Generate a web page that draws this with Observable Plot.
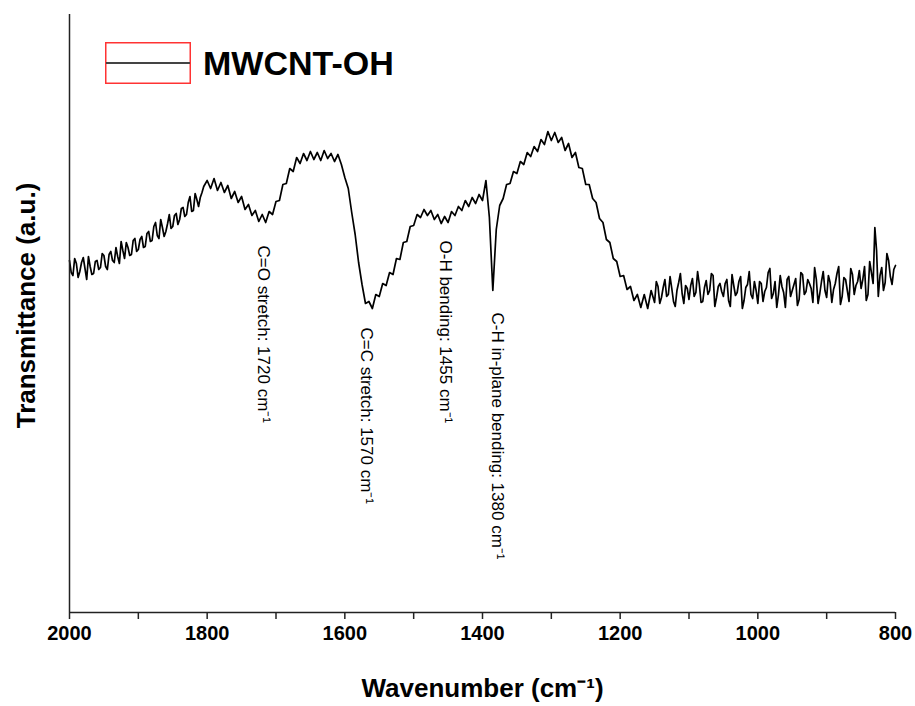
<!DOCTYPE html>
<html>
<head>
<meta charset="utf-8">
<script src="https://cdn.jsdelivr.net/npm/d3@7"></script>
<script src="https://cdn.jsdelivr.net/npm/@observablehq/plot@0.6"></script>
<style>
  body { margin: 0; background: #fff; }
  #chart { position: relative; width: 915px; height: 706px; font-family: "Liberation Sans", Arial, sans-serif; }
  #legend { position: absolute; left: 105px; top: 42px; display: flex; align-items: center; }
  #legend span { font-size: 34px; font-weight: bold; margin-left: 12px; color: #000; line-height: 42px; }
</style>
</head>
<body>
<div id="chart"><div id="legend"></div></div>
<script>
// ---- data ----
const wavenumber = [
  2000,1995,1990,1985,1980,1975,1970,1965,1960,1955,
  1950,1945,1940,1935,1930,1925,1920,1915,1910,1905,
  1900,1895,1890,1885,1880,1875,1870,1865,1860,1855,
  1850,1845,1840,1835,1830,1825,1820,1815,1810,1805,
  1800,1795,1790,1785,1780,1775,1770,1765,1760,1755,
  1750,1745,1740,1735,1730,1725,1720,1715,1710,1705,
  1700,1695,1690,1685,1680,1675,1670,1665,1660,1655,
  1650,1645,1640,1635,1630,1625,1620,1615,1610,1605,
  1600,1595,1590,1585,1580,1575,1570,1565,1560,1555,
  1550,1545,1540,1535,1530,1525,1520,1515,1510,1505,
  1500,1495,1490,1485,1480,1475,1470,1465,1460,1455,
  1450,1445,1440,1435,1430,1425,1420,1415,1410,1405,
  1400,1395,1390,1385,1380,1375,1370,1365,1360,1355,
  1350,1345,1340,1335,1330,1325,1320,1315,1310,1305,
  1300,1295,1290,1285,1280,1275,1270,1265,1260,1255,
  1250,1245,1240,1235,1230,1225,1220,1215,1210,1205,
  1200,1195,1190,1185,1180,1175,1170,1165,1160,1155,
  1150,1145,1140,1135,1130,1125,1120,1115,1110,1105,
  1100,1095,1090,1085,1080,1075,1070,1065,1060,1055,
  1050,1045,1040,1035,1030,1025,1020,1015,1010,1005,
  1000,995,990,985,980,975,970,965,960,955,
  950,945,940,935,930,925,920,915,910,905,
  900,895,890,885,880,875,870,865,860,855,
  850,845,840,835,830,825,820,815,810,805,
  800
];
const transmittance = [
  352,337,349,341,355,333,346,339,352,345,
  357,343,361,350,356,371,354,365,358,374,
  363,376,366,381,372,390,374,385,381,398,
  386,399,393,405,398,416,402,413,415,426,
  432,424,434,422,430,420,427,414,421,410,
  416,403,408,397,402,391,398,390,401,398,
  411,412,428,429,444,441,455,449,459,452,
  461,453,460,452,462,454,459,451,458,448,
  435,424,400,378,350,328,309,311,304,318,
  316,329,327,340,338,354,353,370,371,386,
  387,398,395,403,397,402,393,398,389,396,
  390,401,397,406,402,412,406,415,409,418,
  412,432,395,322,383,407,414,428,429,441,
  439,451,448,460,456,466,461,473,468,481,
  472,480,470,475,462,469,455,460,445,444,
  428,428,414,410,394,390,373,370,354,351,
  336,337,323,326,312,318,305,318,304,322,
  310,326,315,333,318,324,306,330,319,327,
  313,334,320,328,311,332,322,337,315,329,
  316,333,306,327,320,336,312,328,318,331,
  309,329,321,340,314,331,318,326,305,336,
  322,334,313,338,321,329,310,333,319,341,
  315,330,323,339,308,335,322,344,318,331,
  324,346,318,340,385,316,345,330,352,328,
  347
];
// extra in-between readings in the two noisiest stretches
const extraWavenumber = [
  1997.5,1992.5,1987.5,1982.5,1977.5,1972.5,1967.5,1962.5,1957.5,1952.5,
  1947.5,1942.5,1937.5,1932.5,1927.5,1922.5,1917.5,1912.5,1907.5,1902.5,
  1897.5,1892.5,1887.5,1882.5,1877.5,1872.5,1867.5,1862.5,1857.5,1852.5,
  1847.5,1842.5,1837.5,1832.5,1827.5,1822.5,1817.5,1812.5,1807.5,1802.5,
  1147.5,1142.5,1137.5,1132.5,1127.5,1122.5,1117.5,1112.5,1107.5,1102.5,
  1097.5,1092.5,1087.5,1082.5,1077.5,1072.5,1067.5,1062.5,1057.5,1052.5,
  1047.5,1042.5,1037.5,1032.5,1027.5,1022.5,1017.5,1012.5,1007.5,1002.5,
  997.5,992.5,987.5,982.5,977.5,972.5,967.5,962.5,957.5,952.5,
  947.5,942.5,937.5,932.5,927.5,922.5,917.5,912.5,907.5,902.5,
  897.5,892.5,887.5,882.5,877.5,872.5,867.5,862.5,857.5,852.5,
  847.5,842.5,837.5,832.5,827.5,822.5,817.5,812.5,807.5,802.5
];
const extraTransmittance = [
  340,354,335,350,344,356,338,351,343,359,
  346,358,352,365,349,362,370,357,372,361,
  373,365,379,371,386,377,393,376,389,384,
  397,388,404,396,410,401,419,406,420,429,
  331,309,325,316,336,311,322,339,309,324,
  327,316,341,310,325,318,339,306,326,321,
  329,312,338,317,331,304,325,341,314,322,
  331,311,325,344,319,305,337,320,333,316,
  328,307,340,318,333,324,345,309,331,322,
  337,310,329,346,316,333,311,338,327,342,
  333,312,351,329,362,337,322,359,336,343
];
const xTicks = [2000,1900,1800,1700,1600,1500,1400,1300,1200,1100,1000,900,800];
const xTickLabels = [2000,1800,1600,1400,1200,1000,800];
const annotationText = [
  "C=O stretch: 1720 cm⁻¹",
  "C=C stretch: 1570 cm⁻¹",
  "O-H bending: 1455 cm⁻¹",
  "C-H in-plane bending: 1380 cm⁻¹"
];
const annotationWavenumber = [1720, 1570, 1455, 1380];
const annotationStart = [367, 285, 372, 300];
const seriesName = "MWCNT-OH";
const xTitle = "Wavenumber (cm⁻¹)";
const yTitle = "Transmittance (a.u.)";

// ---- build ----
const spectrum = d3.sort(
  wavenumber.map((w, i) => ({w, t: transmittance[i]}))
    .concat(extraWavenumber.map((w, i) => ({w, t: extraTransmittance[i]}))),
  (a, b) => b.w - a.w
);
const notes = annotationText.map((text, i) => ({text, w: annotationWavenumber[i], y: annotationStart[i]}));
const font = '"Liberation Sans", Arial, sans-serif';

const chart = Plot.plot({
  width: 915,
  height: 706,
  marginLeft: 69,
  marginRight: 20,
  marginTop: 14,
  marginBottom: 94,
  style: {fontFamily: font, background: "white", color: "#000", overflow: "visible"},
  x: {domain: [2000, 800]},
  y: {domain: [0, 598], axis: null},
  marks: [
    Plot.line(spectrum, {x: "w", y: "t", stroke: "#000", strokeWidth: 1.7}),
    Plot.ruleX([2000], {stroke: "#222", strokeWidth: 1.5}),
    Plot.ruleY([0], {stroke: "#222", strokeWidth: 1.5}),
    Plot.axisX({
      ticks: xTicks, tickSize: 7, tickPadding: 6,
      tickFormat: d => xTickLabels.includes(d) ? String(d) : "",
      fontSize: 20, fontWeight: "bold", label: null, stroke: "#222", strokeWidth: 1.5
    }),
    Plot.text(notes, {x: "w", y: "y", text: "text", rotate: 90, textAnchor: "start", fontSize: 17, fill: "#000", dx: 1}),
    Plot.text([xTitle], {text: d => d, frameAnchor: "bottom", textAnchor: "middle", lineAnchor: "bottom", dy: 84, fontSize: 26, fontWeight: "bold"}),
    Plot.text([yTitle], {text: d => d, frameAnchor: "left", textAnchor: "middle", lineAnchor: "middle", dx: -43, dy: -8, rotate: -90, fontSize: 26, fontWeight: "bold"})
  ]
});
document.getElementById("chart").prepend(chart);

// legend (inside the frame, top-left)
const legend = document.getElementById("legend");
legend.innerHTML =
  '<svg width="86" height="42"><rect x="0.75" y="0.75" width="84.5" height="40.5" fill="none" stroke="#f33" stroke-width="1.5"/>' +
  '<line x1="1" x2="85" y1="21" y2="21" stroke="#444" stroke-width="2"/></svg>';
const lbl = document.createElement("span");
lbl.textContent = seriesName;
legend.appendChild(lbl);
</script>
</body>
</html>
